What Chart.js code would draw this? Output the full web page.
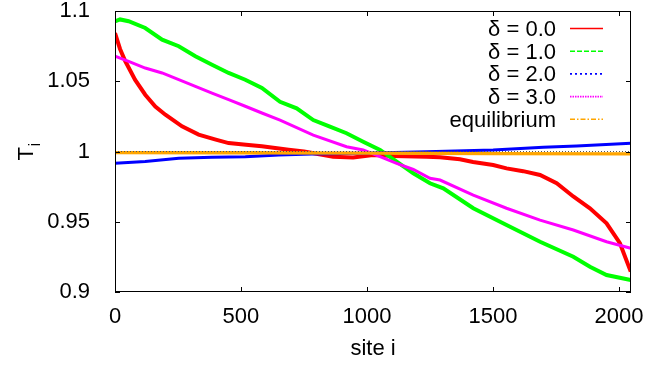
<!DOCTYPE html>
<html>
<head>
<meta charset="utf-8">
<script src="https://cdn.jsdelivr.net/npm/chart.js@4"></script>
<style>
  body { margin: 0; background: #fff; }
</style>
</head>
<body>
<canvas id="tempChart" width="668" height="366"></canvas>
<script>
// data (site index -> local temperature)
var sites0 = [0, 20, 41, 80, 120, 160, 200, 266, 332, 400, 451, 520, 583, 689, 750, 866, 945, 1024, 1105, 1237, 1290, 1369, 1421, 1501, 1554, 1620, 1687, 1753, 1819, 1885, 1951, 2004, 2047];
var temp0 = [1.0843, 1.073, 1.0642, 1.051, 1.0404, 1.032, 1.0262, 1.0179, 1.012, 1.0085, 1.006, 1.0048, 1.0037, 1.0013, 1.0, 0.9963, 0.9957, 0.9975, 0.9968, 0.9963, 0.9959, 0.9945, 0.9925, 0.9904, 0.988, 0.986, 0.9833, 0.9774, 0.968, 0.9596, 0.9489, 0.9347, 0.9145];

var sites1 = [0, 20, 54, 120, 187, 253, 319, 385, 451, 517, 583, 655, 721, 787, 853, 919, 985, 1052, 1118, 1184, 1250, 1303, 1422, 1554, 1687, 1819, 1885, 1951, 2047];
var temp1 = [1.0927, 1.094, 1.0927, 1.0879, 1.0796, 1.0749, 1.0678, 1.0618, 1.0559, 1.0511, 1.0452, 1.0354, 1.0307, 1.0224, 1.0177, 1.013, 1.007, 1.0011, 0.9928, 0.9845, 0.9774, 0.9738, 0.9596, 0.9477, 0.9358, 0.9251, 0.918, 0.9121, 0.9085];

var sites2 = [0, 120, 253, 385, 517, 650, 782, 980, 1237, 1501, 1700, 1832, 2047];
var temp2 = [0.9916, 0.9928, 0.9952, 0.9959, 0.9963, 0.9975, 0.9982, 0.9987, 0.9999, 1.0011, 1.003, 1.0039, 1.0058];

var sites3 = [0, 54, 120, 187, 253, 319, 385, 451, 517, 583, 655, 787, 919, 985, 1052, 1118, 1184, 1250, 1290, 1422, 1554, 1687, 1819, 1951, 2047];
var temp3 = [1.0678, 1.0642, 1.0594, 1.0559, 1.0511, 1.0464, 1.0416, 1.0369, 1.0322, 1.0274, 1.0224, 1.0117, 1.0034, 1.0011, 0.9963, 0.9916, 0.9872, 0.9809, 0.9797, 0.969, 0.9596, 0.9512, 0.9441, 0.9358, 0.9311];

var sitesEq = [0, 500, 1000, 1500, 2047];
var tempEq = [0.9992, 0.9991, 0.9988, 0.9985, 0.9983];

var refSites = [0, 2048];
var refTemp = [1, 1];

var labels = ["\u03b4 = 0.0", "\u03b4 = 1.0", "\u03b4 = 2.0", "\u03b4 = 3.0", "equilibrium"];
var colors = ["#ff0000", "#00ff00", "#0000ff", "#ff00ff", "#ffa500"];
var dashes = [[], [5, 2], [2, 3], [1.5, 1], [5, 2, 1.5, 2]];

var xTicks = [0, 500, 1000, 1500, 2000];
var yTicks = [0.9, 0.95, 1, 1.05, 1.1];

var FONT = "'Liberation Sans', Arial, Helvetica, sans-serif";

function pts(xs, ys) {
    var out = [];
    for (let i = 0; i < xs.length; i++) {
        out.push({x: xs[i], y: ys[i]});
    }
    return out;
}

// gnuplot style frame, inward ticks, key and y label
var gnuplotLook = {
    id: 'gnuplotLook',
    afterDatasetsDraw: function(chart) {
        var ctx = chart.ctx;
        var a = chart.chartArea;
        var xs = chart.scales.x, ys = chart.scales.y;
        ctx.save();
        ctx.strokeStyle = '#000';
        ctx.lineWidth = 1;
        ctx.setLineDash([]);
        ctx.strokeRect(a.left + 0.5, a.top + 0.5, a.right - a.left - 1, a.bottom - a.top - 1);
        ctx.beginPath();
        xTicks.forEach(function(v) {
            var px = Math.round(xs.getPixelForValue(v)) + 0.5;
            ctx.moveTo(px, a.bottom); ctx.lineTo(px, a.bottom - 5);
            ctx.moveTo(px, a.top); ctx.lineTo(px, a.top + 5);
        });
        yTicks.forEach(function(v) {
            var py = Math.round(ys.getPixelForValue(v)) + 0.5;
            ctx.moveTo(a.left, py); ctx.lineTo(a.left + 5, py);
            ctx.moveTo(a.right, py); ctx.lineTo(a.right - 5, py);
        });
        ctx.stroke();

        // key
        ctx.font = '22px ' + FONT;
        ctx.fillStyle = '#000';
        ctx.textAlign = 'right';
        ctx.textBaseline = 'alphabetic';
        for (let i = 0; i < labels.length; i++) {
            var base = 36 + i * 22.7;
            ctx.fillText(labels[i], 556, base);
            ctx.beginPath();
            ctx.strokeStyle = colors[i];
            ctx.lineWidth = 1.6;
            ctx.setLineDash(dashes[i]);
            ctx.moveTo(570, base - 7.5);
            ctx.lineTo(603, base - 7.5);
            ctx.stroke();
        }
        ctx.setLineDash([]);

        // y label T_i
        ctx.translate(33, 153.7);
        ctx.rotate(-Math.PI / 2);
        ctx.textAlign = 'center';
        ctx.fillStyle = '#000';
        ctx.font = '22px ' + FONT;
        ctx.fillText('T', 0, 0);
        ctx.font = '17px ' + FONT;
        ctx.fillText('i', 9.2, 7);
        ctx.restore();
    }
};

var ctxT = document.getElementById("tempChart");
var tempChart = new Chart(ctxT, {
    type: 'line',
    data: {
        datasets: [
            { label: 'ref', data: pts(refSites, refTemp), borderColor: '#555', borderWidth: 1, borderDash: [1, 2], order: 0 },
            { label: labels[0], data: pts(sites0, temp0), borderColor: colors[0], borderWidth: 4, order: 5 },
            { label: labels[1], data: pts(sites1, temp1), borderColor: colors[1], borderWidth: 4, order: 4 },
            { label: labels[2], data: pts(sites2, temp2), borderColor: colors[2], borderWidth: 3, order: 3 },
            { label: labels[3], data: pts(sites3, temp3), borderColor: colors[3], borderWidth: 3, order: 2 },
            { label: labels[4], data: pts(sitesEq, tempEq), borderColor: colors[4], borderWidth: 3.3, order: 1 }
        ]
    },
    options: {
        responsive: false,
        animation: false,
        layout: { padding: { top: 11, right: 37, left: 0, bottom: 0 } },
        elements: { point: { radius: 0 }, line: { tension: 0 } },
        plugins: { legend: { display: false }, tooltip: { enabled: false } },
        scales: {
            x: {
                type: 'linear',
                min: 0,
                max: 2048,
                afterBuildTicks: function(s) { s.ticks = xTicks.map(function(v) { return {value: v}; }); },
                afterFit: function(s) { s.height = 74; s.paddingLeft = 0; s.paddingRight = 0; },
                grid: { display: false },
                border: { display: false },
                ticks: {
                    maxRotation: 0,
                    autoSkip: false,
                    padding: 4,
                    color: '#000',
                    font: { family: FONT, size: 22 },
                    callback: function(v) { return String(v); }
                },
                title: {
                    display: true,
                    text: 'site i',
                    color: '#000',
                    padding: { top: 0, bottom: 4 },
                    font: { family: FONT, size: 22 }
                }
            },
            y: {
                min: 0.9,
                max: 1.1,
                afterBuildTicks: function(s) { s.ticks = yTicks.map(function(v) { return {value: v}; }); },
                afterFit: function(s) { s.width = 115; s.paddingTop = 0; s.paddingBottom = 0; },
                grid: { display: false },
                border: { display: false },
                ticks: {
                    autoSkip: false,
                    padding: 17,
                    color: '#000',
                    font: { family: FONT, size: 22 },
                    callback: function(v) { return String(parseFloat(v.toFixed(2))); }
                }
            }
        }
    },
    plugins: [gnuplotLook]
});
</script>
</body>
</html>
